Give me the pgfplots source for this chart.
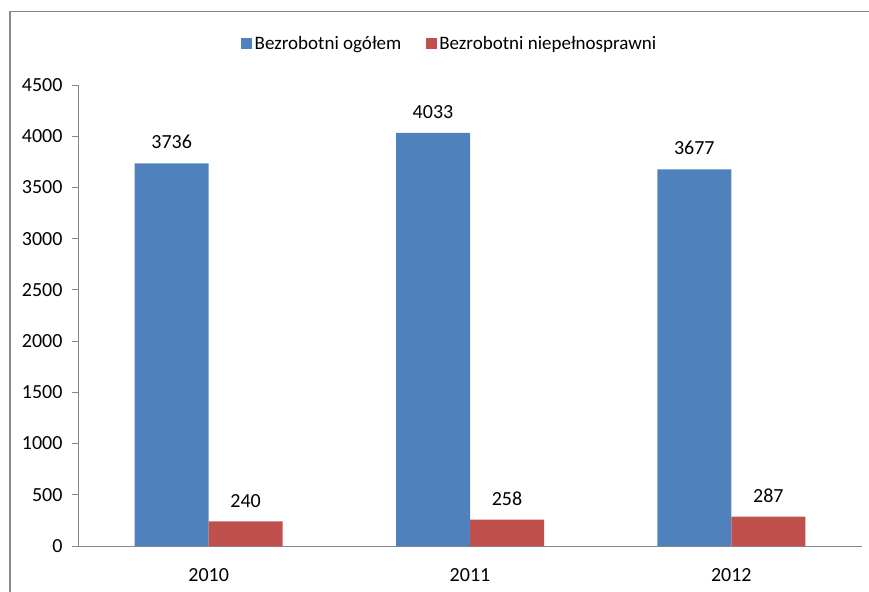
\documentclass[border=0pt]{standalone}
\usepackage{pgfplots}
\pgfplotsset{compat=1.18}
\usepackage{fontspec}
\setmainfont{Carlito}
\definecolor{sblue}{HTML}{4F81BD}
\definecolor{sred}{HTML}{C0504D}
\definecolor{frame}{HTML}{8A8A8A}
\definecolor{axgray}{HTML}{868686}
\begin{document}
\begin{tikzpicture}[x=1pt,y=1pt]
\useasboundingbox (0,0) rectangle (869,591);
\draw[frame,line width=1.5pt] (10,-10) -- (10,579.3) -- (875,579.3);
\begin{axis}[
  at={(78pt,45pt)}, anchor=south west,
  scale only axis, width=784pt, height=461pt,
  ybar=0pt, bar width=74pt,
  legend image code/.code={\fill[#1] (0pt,-5.5pt) rectangle (11pt,5.5pt);},
  xmin=0.5, xmax=3.5, ymin=0, ymax=4500,
  axis x line*=bottom, axis y line*=left,
  axis line style={axgray, line width=0.8pt, -},
  xtick={1,2,3}, xticklabels={2010,2011,2012},
  x tick style={draw=none},
  extra x ticks={0.5,1.5,2.5,3.5}, extra x tick labels={},
  extra x tick style={tick align=outside, major tick length=8pt, tick style={axgray, line width=0.8pt}},
  ytick={0,500,...,4500},
  y tick style={axgray, line width=0.8pt},
  tick align=outside, major tick length=6pt,
  /pgf/number format/assume math mode=true,
  /pgf/number format/1000 sep={},
  tick label style={font=\fontsize{20}{23}\selectfont, black},
  xticklabel style={yshift=-13pt},
  yticklabel style={xshift=-6pt},
  nodes near coords,
  every node near coord/.append style={font=\fontsize{20}{23}\selectfont, black, inner sep=0pt, yshift=14pt, /pgf/number format/assume math mode=true},
  legend columns=2,
  legend style={at={(0.4745,1.09)}, anchor=center, draw=none, fill=none,
    font=\fontsize{19}{22}\selectfont,
    /tikz/every odd column/.append style={column sep=0pt},
    /tikz/every even column/.append style={column sep=22pt},
    nodes={inner xsep=2.5pt}},
]
\addplot[fill=sblue, draw=none] coordinates {(1,3736) (2,4033) (3,3677)};
\addplot[fill=sred, draw=none] coordinates {(1,240) (2,258) (3,287)};
\legend{Bezrobotni ogółem, Bezrobotni niepełnosprawni}
\end{axis}
\end{tikzpicture}
\end{document}
